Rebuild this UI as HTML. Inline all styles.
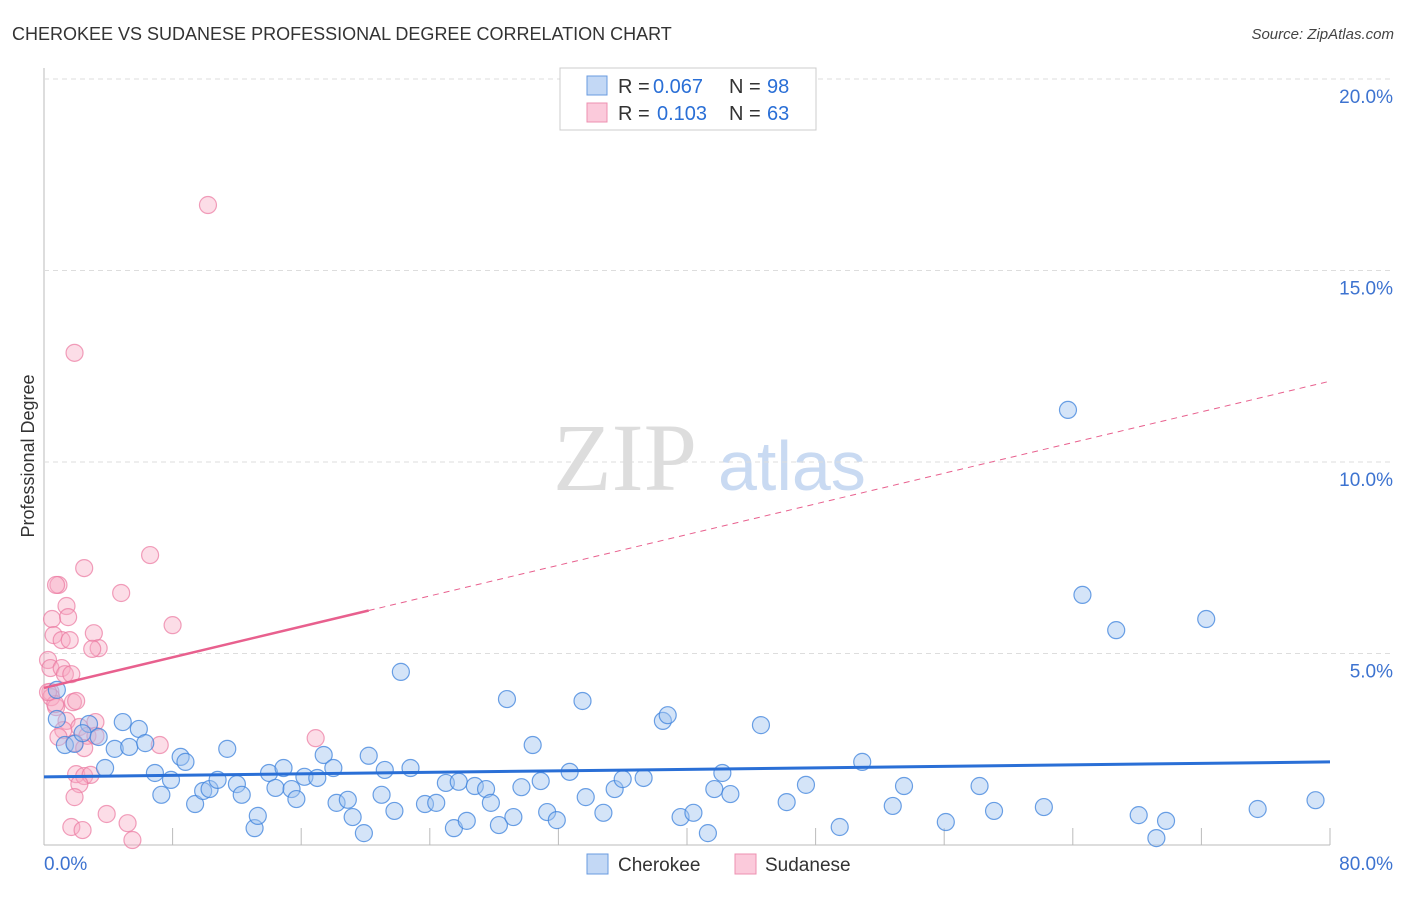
<!DOCTYPE html>
<html><head><meta charset="utf-8">
<style>
body{margin:0;background:#fff;font-family:"Liberation Sans",sans-serif;}
</style></head>
<body>
<svg id="c" width="1406" height="892" font-family="Liberation Sans, sans-serif">
<text x="12" y="40" font-size="18" fill="#333">CHEROKEE VS SUDANESE PROFESSIONAL DEGREE CORRELATION CHART</text>
<text x="1394" y="39" font-size="15" fill="#444" font-style="italic" text-anchor="end">Source: ZipAtlas.com</text>
<text x="34" y="456" font-size="18" fill="#333" transform="rotate(-90 34 456)" text-anchor="middle">Professional Degree</text>
<text x="553" y="490" font-size="96" fill="#ddd" style="font-family:'Liberation Serif',serif">ZIP</text>
<text x="718" y="490" font-size="70" fill="#c9daf2">atlas</text>
<g id="grid"></g><g id="pts"></g><g id="lines"></g>
<g>
<rect x="560" y="68" width="256" height="62" fill="#fff" stroke="#ccc"/>
<rect x="587" y="76" width="20" height="19" fill="#c3d8f5" stroke="#6a9be0"/>
<rect x="587" y="103" width="20" height="19" fill="#fbcadb" stroke="#ee90b0"/>
<text x="618" y="93" font-size="20" fill="#333">R =</text>
<text x="653" y="93" font-size="20" fill="#2a6fd6">0.067</text>
<text x="729" y="93" font-size="20" fill="#333">N =</text>
<text x="767" y="93" font-size="20" fill="#2a6fd6">98</text>
<text x="618" y="120" font-size="20" fill="#333">R =</text>
<text x="657" y="120" font-size="20" fill="#2a6fd6">0.103</text>
<text x="729" y="120" font-size="20" fill="#333">N =</text>
<text x="767" y="120" font-size="20" fill="#2a6fd6">63</text>
</g>
<g>
<rect x="587" y="854" width="21" height="20" fill="#c3d8f5" stroke="#6a9be0"/>
<text x="618" y="871" font-size="19" fill="#333">Cherokee</text>
<rect x="735" y="854" width="21" height="20" fill="#fbcadb" stroke="#ee90b0"/>
<text x="765" y="871" font-size="19" fill="#333">Sudanese</text>
</g>
</svg>
<script>
const yTicks=[5,10,15,20];
const yTickLabels=["5.0%","10.0%","15.0%","20.0%"];
const xTicks=[0,8,16,24,32,40,48,56,64,72,80];
const cherokeeX=[0.8,1.3,1.9,2.8,2.4,3.4,3.8,4.4,4.9,5.3,5.9,6.3,6.9,7.3,7.9,8.5,8.8,9.4,9.9,10.3,10.8,11.4,12.0,12.3,13.1,13.3,14.0,14.4,14.9,15.4,15.7,16.2,17.0,17.4,18.0,18.2,18.9,19.2,19.9,20.2,21.0,21.2,21.8,22.2,22.8,23.7,24.4,25.0,25.5,25.8,26.3,26.8,27.5,27.8,28.3,28.8,29.2,29.7,30.4,30.9,31.3,31.9,32.7,33.5,33.7,34.8,35.5,36.0,37.3,38.5,38.8,39.6,40.4,41.3,41.7,42.2,42.7,44.6,46.2,47.4,49.5,50.9,52.8,53.5,56.1,58.2,59.1,62.2,63.7,64.6,66.7,68.1,69.2,69.8,72.3,75.5,79.1,0.8];
const cherokeeY=[3.29,2.61,2.64,3.16,2.92,2.82,2.01,2.51,3.21,2.56,3.03,2.66,1.88,1.31,1.70,2.30,2.17,1.07,1.41,1.46,1.70,2.51,1.59,1.31,0.44,0.76,1.88,1.49,2.01,1.46,1.20,1.78,1.75,2.35,2.01,1.10,1.18,0.73,0.31,2.33,1.31,1.96,0.89,4.52,2.01,1.07,1.10,1.62,0.44,1.65,0.63,1.54,1.46,1.10,0.52,3.81,0.73,1.51,2.61,1.67,0.86,0.65,1.91,3.76,1.25,0.84,1.46,1.72,1.75,3.24,3.39,0.73,0.84,0.31,1.46,1.88,1.33,3.13,1.12,1.57,0.47,2.17,1.02,1.54,0.60,1.54,0.89,0.99,11.36,6.53,5.61,0.78,0.18,0.63,5.90,0.94,1.17,4.05];
const sudaneseX=[10.2,1.9,6.6,2.5,0.9,0.75,4.8,8.0,1.4,0.5,1.5,3.1,0.6,1.1,1.6,3.4,3.0,0.25,0.4,1.1,1.3,1.7,0.4,0.45,1.8,2.0,0.75,1.4,3.2,2.2,1.2,0.9,2.7,3.2,1.9,2.5,7.2,16.9,2.0,2.5,2.9,2.2,1.9,3.9,5.2,1.7,2.4,5.5,0.7,0.25];
const sudaneseY=[16.71,12.85,7.57,7.23,6.79,6.79,6.58,5.74,6.24,5.90,5.95,5.53,5.48,5.35,5.35,5.14,5.12,4.83,4.62,4.62,4.46,4.46,4.00,3.86,3.73,3.76,3.60,3.24,3.21,3.08,3.00,2.82,2.85,2.85,2.66,2.53,2.61,2.79,1.85,1.80,1.83,1.59,1.25,0.81,0.57,0.47,0.39,0.13,3.68,3.99];
const cherokeeTrend=[1.78,2.17];
const sudaneseTrend=[4.10,12.11];
const sudaneseSolidEnd=20.2;
</script>
<script>
const X=v=>44+v*16.075, Y=v=>845-v*38.3;
const ns="http://www.w3.org/2000/svg";
function mk(t,a,p){const e=document.createElementNS(ns,t);for(const k in a)e.setAttribute(k,a[k]);p.appendChild(e);return e;}
const g=document.getElementById('grid'),P=document.getElementById('pts'),L=document.getElementById('lines');
mk('line',{x1:44,y1:68,x2:44,y2:845,stroke:'#bbb'},g);
mk('line',{x1:44,y1:845,x2:1330,y2:845,stroke:'#bbb'},g);
yTicks.forEach((t,i)=>{
 const l=mk('line',{x1:44,y1:Y(t),x2:1394,y2:Y(t),stroke:'#ddd','stroke-dasharray':'5,4'},g);
 
 
 const tx=mk('text',{x:1393,y:Y(t)+24,'font-size':19,fill:'#3d73d0','text-anchor':'end'},g);tx.textContent=yTickLabels[i];
 
 
});
xTicks.forEach(t=>{const l=mk('line',{x1:X(t),y1:828,x2:X(t),y2:845,stroke:'#bbb'},g);
 
 });
const x0=mk('text',{x:44,y:870,'font-size':19,fill:'#3d73d0'},g);x0.textContent='0.0%';


const x1=mk('text',{x:1393,y:870,'font-size':19,fill:'#3d73d0','text-anchor':'end'},g);x1.textContent='80.0%';


sudaneseX.forEach((v,i)=>{const c=mk('circle',{cx:X(v),cy:Y(sudaneseY[i]),r:8.5,fill:'rgba(248,170,195,0.4)',stroke:'rgba(235,120,160,0.7)','stroke-width':1.2},P);
 
 });
cherokeeX.forEach((v,i)=>{const c=mk('circle',{cx:X(v),cy:Y(cherokeeY[i]),r:8.5,fill:'rgba(160,195,240,0.45)',stroke:'rgba(60,130,220,0.75)','stroke-width':1.2},P);
 
 });
const cs=(cherokeeTrend[1]-cherokeeTrend[0])/80, ss=(sudaneseTrend[1]-sudaneseTrend[0])/80;
const bl=mk('line',{x1:X(0),y1:Y(cherokeeTrend[0]),x2:X(80),y2:Y(cherokeeTrend[1]),stroke:'#2a6fd6','stroke-width':3},L);


const sm=sudaneseTrend[0]+ss*sudaneseSolidEnd;
const p1=mk('line',{x1:X(0),y1:Y(sudaneseTrend[0]),x2:X(sudaneseSolidEnd),y2:Y(sm),stroke:'#e8608e','stroke-width':2.5},L);


const p2=mk('line',{x1:X(sudaneseSolidEnd),y1:Y(sm),x2:X(80),y2:Y(sudaneseTrend[1]),stroke:'#e8608e','stroke-width':1,'stroke-dasharray':'6,5'},L);


</script>
</body></html>
